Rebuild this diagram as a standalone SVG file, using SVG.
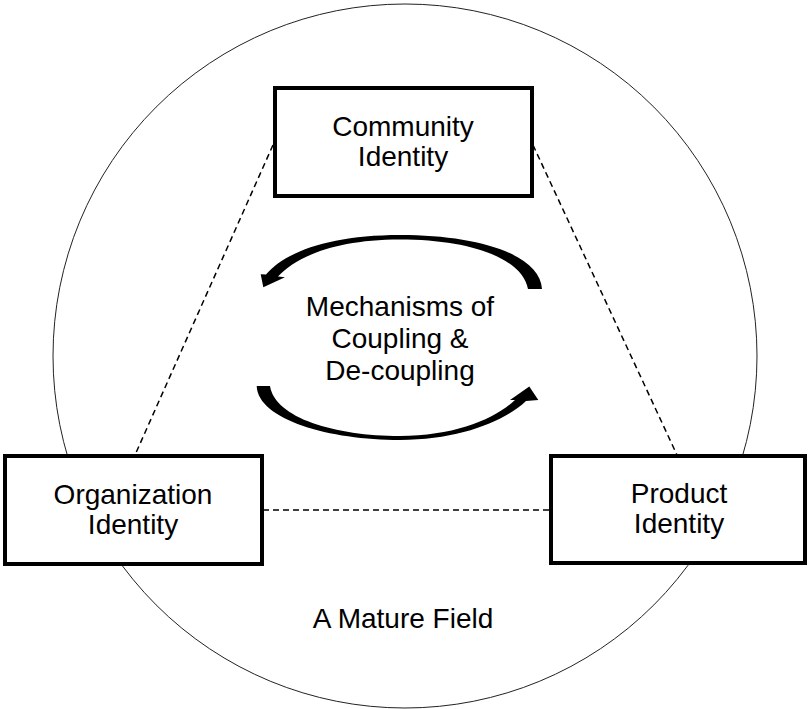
<svg xmlns="http://www.w3.org/2000/svg" width="808" height="709" viewBox="0 0 808 709">
  <style>
    .field { fill: none; stroke: #222; stroke-width: 1; }
    .link { fill: none; stroke: #000; stroke-width: 1.5; stroke-dasharray: 6 4; }
    .box { fill: #fff; stroke: #000; stroke-width: 4; }
    .label { font-family: "Liberation Sans", Arial, sans-serif; font-size: 28px; fill: #000; text-anchor: middle; }
    .cycle { fill: #000; stroke: none; }
  </style>

  <!-- field boundary -->
  <circle class="field" cx="405" cy="356" r="352"/>

  <!-- dashed links between identities -->
  <g id="connectors">
    <line class="link" x1="273" y1="145" x2="135" y2="455"/>
    <line class="link" x1="533" y1="145" x2="677" y2="455"/>
    <line class="link" x1="263" y1="510" x2="550" y2="510"/>
  </g>

  <g id="community">
    <rect class="box" x="275" y="88" width="257" height="108"/>
    <text class="label" x="403" y="136">Community</text>
    <text class="label" x="403" y="166">Identity</text>
  </g>

  <g id="organization">
    <rect class="box" x="5" y="456" width="257" height="108"/>
    <text class="label" x="133" y="504">Organization</text>
    <text class="label" x="133" y="534">Identity</text>
  </g>

  <g id="product">
    <rect class="box" x="551" y="456" width="254" height="107"/>
    <text class="label" x="679" y="503">Product</text>
    <text class="label" x="679" y="533">Identity</text>
  </g>

  <!-- tapered cycle arrows -->
  <g id="mechanisms">
    <path class="cycle" d="M542,289 C540,255 480,235 400,235 C330,235 285,252 266,274.5 L260.7,274.3 L263.3,287.3 L285,277.3 L278,276.5 C296,257 335,239.5 400,239.5 C470,239.5 522,258 528,289 Z"/>
    <path class="cycle" d="M256.7,386 C258,420 330,440 400,440 C460,440 505,421 526,401 L538.3,400 L529.3,386.5 L510,400 L515,400 C495,419 455,436 400,436 C335,436 275,418 270,386 Z"/>
    <text class="label" x="400" y="316">Mechanisms of</text>
    <text class="label" x="400" y="348">Coupling &amp;</text>
    <text class="label" x="400" y="380">De-coupling</text>
  </g>

  <text class="label" x="403" y="628">A Mature Field</text>
</svg>
